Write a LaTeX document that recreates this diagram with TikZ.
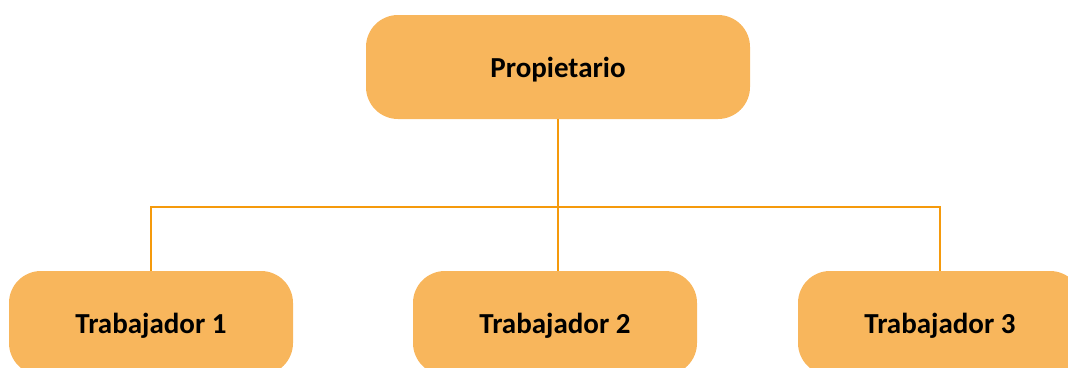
\documentclass[tikz,border=0pt]{standalone}
\usepackage{fontspec}
\setmainfont{Carlito}
\definecolor{boxfill}{HTML}{F8B65C}
\definecolor{linecol}{HTML}{F59A0C}
\begin{document}
\begin{tikzpicture}[x=1pt,y=-1pt,
  orgbox/.style={draw=none, fill=boxfill, rounded corners=32pt, minimum width=284pt, minimum height=104pt, inner sep=0pt, text height=21pt, text depth=0pt, font=\bfseries\fontsize{29}{32}\selectfont, anchor=center},
  conn/.style={draw=linecol, line width=2.2pt}]
\useasboundingbox (0,0) rectangle (1068,367);
\clip (0,0) rectangle (1068,367);
\node[orgbox, minimum width=384pt] (p) at (558,67) {Propietario};
\node[orgbox] (t1) at (151,323) {Trabajador 1};
\node[orgbox] (t2) at (555,323) {Trabajador 2};
\node[orgbox] (t3) at (940,323) {Trabajador 3};
\coordinate (j) at (558,207);
\draw[conn] (p.south) -- (j);
\draw[conn] (t1.north) |- (j) -| (t3.north);
\draw[conn] (j) -- (j |- t2.north);
\end{tikzpicture}
\end{document}
